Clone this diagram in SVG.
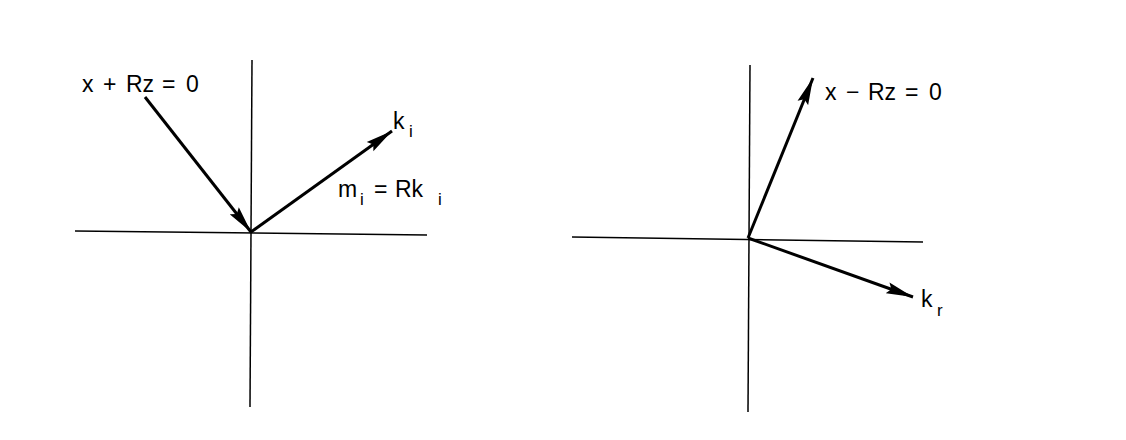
<svg xmlns="http://www.w3.org/2000/svg" width="1126" height="440" viewBox="0 0 1126 440">
<defs>
<style>
.axis{stroke:#000;stroke-width:1.5;fill:none}
.vec{stroke:#000;stroke-width:3;fill:none;marker-end:url(#ah)}
.lbl{font-family:"Liberation Sans",Arial,sans-serif;font-size:23px;fill:#000}
.sub{font-family:"Liberation Sans",Arial,sans-serif;font-size:17px;fill:#000}
</style>
<marker id="ah" markerUnits="userSpaceOnUse" markerWidth="30" markerHeight="13" refX="27" refY="6.5" orient="auto" viewBox="0 0 30 13">
<path d="M0,0.8 L27,6.5 L0,12.2 L4,6.5 z" fill="#000"/>
</marker>
</defs>
<rect width="1126" height="440" fill="#fff"/>
<g id="axes">
<line class="axis" x1="75" y1="231" x2="427" y2="235"/>
<line class="axis" x1="252" y1="60" x2="250" y2="407"/>
<line class="axis" x1="572" y1="237" x2="923" y2="242"/>
<line class="axis" x1="750" y1="65" x2="748" y2="412"/>
</g>
<g id="connectors">
<line class="vec" x1="145" y1="97" x2="251" y2="232"/>
<line class="vec" x1="251" y1="232" x2="392" y2="131"/>
<line class="vec" x1="748" y1="238" x2="813" y2="78"/>
<line class="vec" x1="748" y1="238" x2="913" y2="297"/>
</g>
<g id="label-plane-plus">
<text class="lbl" y="92"><tspan x="82">x</tspan><tspan x="103">+</tspan><tspan x="126">Rz</tspan><tspan x="162">=</tspan><tspan x="186">0</tspan></text>
</g>
<g id="label-ki">
<text class="lbl" x="393" y="129">k</text>
<text class="sub" x="409" y="137">i</text>
</g>
<g id="label-mi">
<text class="lbl" x="338" y="197">m</text>
<text class="sub" x="360" y="205">i</text>
<text class="lbl" x="374" y="197">=</text>
<text class="lbl" x="395" y="197">Rk</text>
<text class="sub" x="438" y="205">i</text>
</g>
<g id="label-plane-minus">
<text class="lbl" y="100"><tspan x="825">x</tspan><tspan x="846">−</tspan><tspan x="868">Rz</tspan><tspan x="905">=</tspan><tspan x="929">0</tspan></text>
</g>
<g id="label-kr">
<text class="lbl" x="921" y="307">k</text>
<text class="sub" x="937" y="316">r</text>
</g>
</svg>
